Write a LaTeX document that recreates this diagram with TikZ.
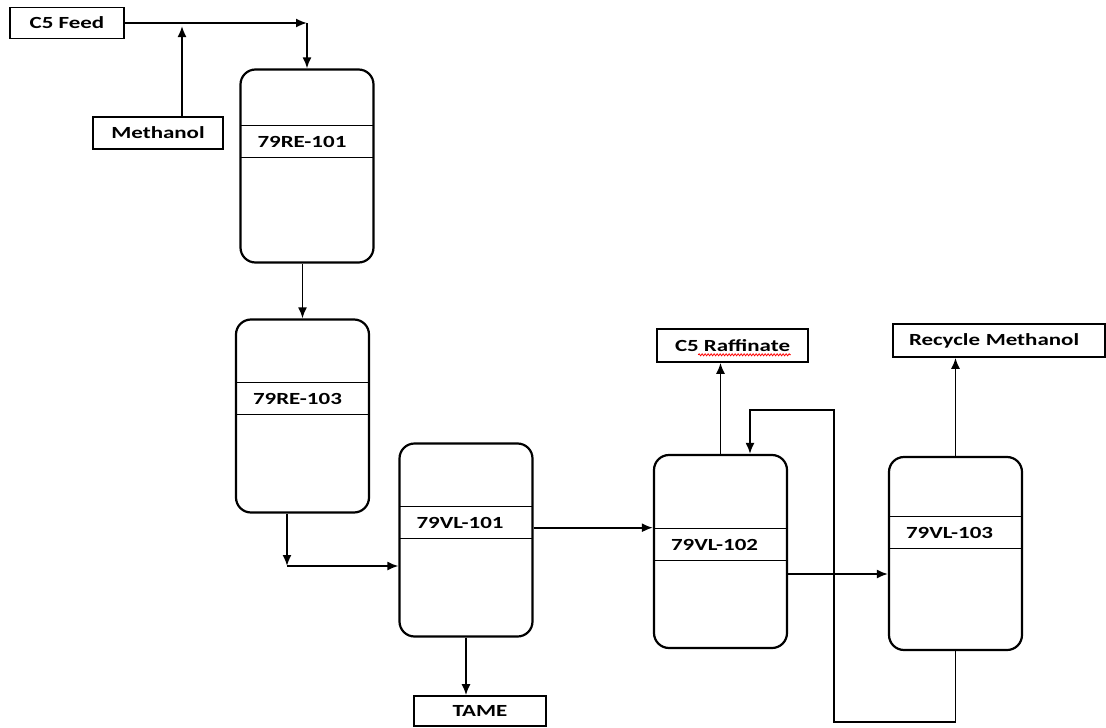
\documentclass[tikz,border=0pt]{standalone}
\usepackage{fontspec}
\setmainfont{Carlito}[FakeStretch=1.35]
\usetikzlibrary{arrows.meta,calc,decorations.pathmorphing}

\begin{document}
\begin{tikzpicture}[x=1pt, y=-1pt, font=\bfseries\fontsize{17}{20}\selectfont]
            \tikzstyle{vessel}=[draw,line width=2.2pt,rounded corners=15pt,minimum width=133pt,minimum height=193pt,inner sep=0pt]
            \tikzstyle{band}=[draw,line width=1.6pt,minimum width=133pt,minimum height=32pt,text width=99pt,inner xsep=17pt,inner ysep=0pt,align=left]
            \tikzstyle{stream}=[draw,line width=1.6pt,minimum height=31pt,inner sep=0pt]
            \tikzstyle{flow}=[line width=1.8pt,-{Latex[length=11pt,width=9pt]}]
            \useasboundingbox (0,0) rectangle (1106,728);
            \fill[white] (0,0) rectangle (1106,728);

            % feeds and products
            \node[stream,minimum width=114pt] (feed) at (67,23) {C5 Feed};
            \node[stream,minimum width=130pt,minimum height=32pt] (meoh) at (158,133) {Methanol};
            \node[stream,minimum width=151pt,minimum height=33pt] (raff) at (732.5,345.5) {C5 Raffinate};
            \node[stream,minimum width=212pt,minimum height=33pt,text width=180pt,align=left] (rmeoh) at (999,340.5) {Recycle Methanol};
            \node[stream,minimum width=132pt,minimum height=30pt] (tame) at (480,711) {TAME};
            \draw[red,line width=0.8pt,decorate,decoration={snake,amplitude=1pt,segment length=3pt}]
                ($(raff.south west)+(42,-8)$) -- ($(raff.south east)+(-18,-8)$);

            % vessels
            \node[vessel] (RE_101) at (307,166) {};
            \node[band] (RE_101t) at (307,141.5) {79RE-101};
            \node[vessel] (RE_103) at (302.5,416) {};
            \node[band] (RE_103t) at (302.5,398.5) {79RE-103};
            \node[vessel] (VL_101) at (466,540) {};
            \node[band] (VL_101t) at (466,522.5) {79VL-101};
            \node[vessel] (VL_102) at (720.5,551.5) {};
            \node[band] (VL_102t) at (720.5,544.5) {79VL-102};
            \node[vessel] (VL_103) at (955.5,553.5) {};
            \node[band] (VL_103t) at (955.5,532.5) {79VL-103};

            % lines
            \coordinate (c_1) at (307,23);
            \coordinate (c_2) at (182,26);
            \coordinate (c_3) at (287,566);
            \coordinate (c_4) at (0,574);
            \coordinate (c_5) at (834,722);
            \coordinate (c_6) at (750,410);
            \draw[flow] (feed) -- (c_1);
            \draw[flow] (c_1) -- (RE_101);
            \draw[flow] (meoh.north -| c_2) -- (c_2);
            \draw[flow] (RE_101.south -| RE_103.north) -- (RE_103.north);
            \draw[flow] (RE_103.south -| c_3) -- (c_3);
            \draw[flow] (c_3) -- (VL_101.west |- c_3);
            \draw[flow] (VL_101.east |- VL_102t.north) -- (VL_102.west |- VL_102t.north);
            \draw[flow] (VL_101.south) -- (VL_101.south |- tame.north);
            \draw[flow] (VL_102.north) -- (VL_102.north |- raff.south);
            \draw[flow] (VL_102.east |- c_4) -- (VL_103.west |- c_4);
            \draw[flow] (VL_103.north) -- (VL_103.north |- rmeoh.south);
            \draw[flow] (VL_103.south) |- (c_5) |- (c_6) -- (c_6 |- VL_102.north);
        \end{tikzpicture}
\end{document}
